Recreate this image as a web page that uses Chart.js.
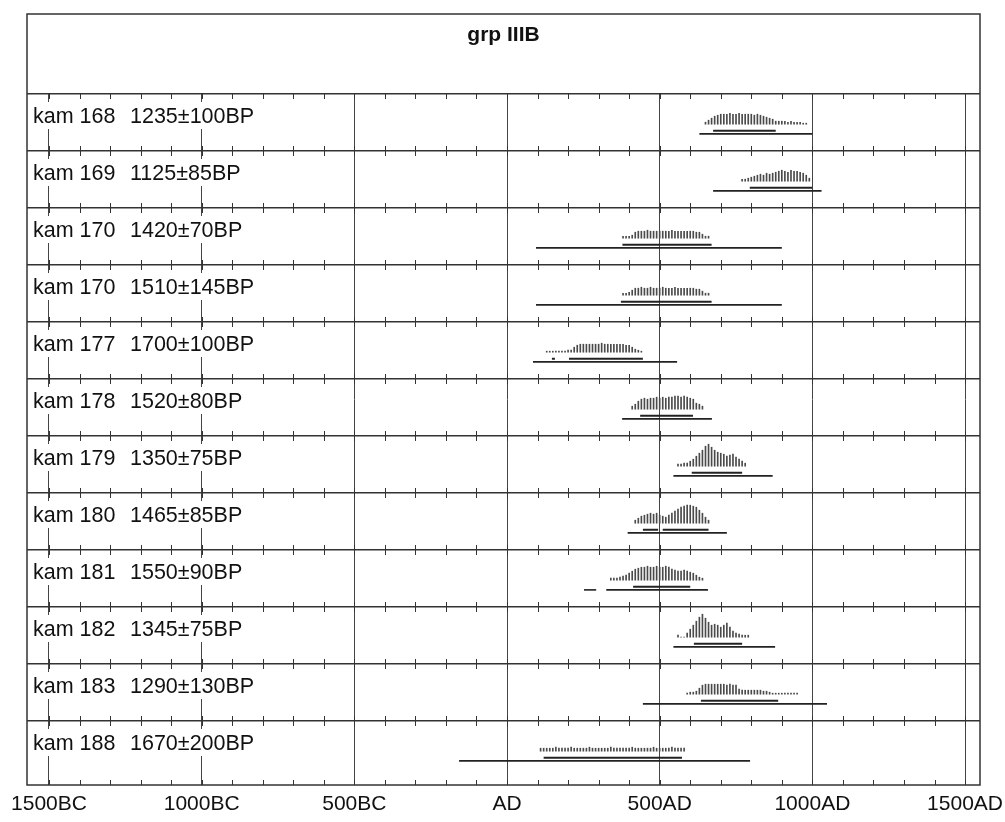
<!DOCTYPE html>
<html>
<head>
<meta charset="utf-8">
<script src="https://cdn.jsdelivr.net/npm/chart.js@4.4.0/dist/chart.umd.min.js"></script>
<style>
  html, body { margin: 0; padding: 0; background: #fff; }
</style>
</head>
<body>
<canvas id="grafico" width="1005" height="822"></canvas>
<script>
// Título e rótulos das linhas (nome da amostra e data BP)
const titulo = 'grp IIIB';
const nomes = ['kam 168', 'kam 169', 'kam 170', 'kam 170', 'kam 177', 'kam 178',
               'kam 179', 'kam 180', 'kam 181', 'kam 182', 'kam 183', 'kam 188'];
const datas = ['1235±100BP', '1125±85BP', '1420±70BP', '1510±145BP', '1700±100BP', '1520±80BP',
               '1350±75BP', '1465±85BP', '1550±90BP', '1345±75BP', '1290±130BP', '1670±200BP'];

// Eixo X (anos, AD = 0)
const anosEixo = [-1500, -1000, -500, 0, 500, 1000, 1500];
const rotulosEixo = ['1500BC', '1000BC', '500BC', 'AD', '500AD', '1000AD', '1500AD'];

// Distribuições de probabilidade (passo de 10 anos, primeiro ano em inicioProb)
const passoProb = 10;
const inicioProb = [650, 770, 380, 380, 130, 410, 560, 420, 340, 560, 590, 110];
const p168 = [2,4,6,8,9,10,10,10,11,10,10,11,10,10,10,10,9,10,9,8,7,6,5,3,3,3,3,2,3,2,2,2,1,1];
const p169 = [2,2,3,4,5,6,7,6,8,7,8,9,10,11,10,9,11,10,10,9,8,6,3];
const p170a = [2,2,2,3,6,7,7,7,8,7,7,7,7,7,7,7,8,7,7,7,7,7,7,7,6,6,4,2,2];
const p170b = [2,2,3,5,7,7,8,7,7,8,7,7,7,8,7,7,7,8,7,7,7,7,7,7,6,6,4,2,2];
const p177 = [1,1,1,1,1,1,1,2,2,5,7,8,8,8,8,8,8,8,9,8,8,8,8,8,8,8,7,7,5,3,2,1];
const p178 = [3,5,8,10,11,10,11,11,12,11,12,11,12,12,13,13,12,13,12,11,10,6,5,3];
const p179 = [2,2,3,3,5,7,10,13,16,20,22,19,16,14,13,12,10,11,12,9,7,5,3];
const p180 = [3,5,7,8,9,10,9,10,8,7,6,8,10,12,14,16,17,18,18,17,16,13,10,6,3];
const p181 = [2,2,2,3,4,5,7,9,11,12,13,13,14,13,13,14,13,13,14,13,11,10,9,9,10,9,8,7,5,3,2];
const p182 = [2,0,0,4,8,12,16,20,23,19,15,12,13,12,10,12,14,10,6,4,3,2,2,2];
const p183 = [1,2,2,3,6,9,10,10,10,10,10,10,10,9,10,9,9,5,4,4,4,4,4,4,4,3,3,2,1,1,1,1,1,1,1,1,1];
const p188 = [3,3,3,3,3,4,3,3,3,3,4,3,3,3,3,3,4,3,3,3,3,3,3,4,3,3,3,3,3,3,4,3,3,3,3,3,3,4,3,3,3,3,3,4,3,3,3,3];
const probs = [p168, p169, p170a, p170b, p177, p178, p179, p180, p181, p182, p183, p188];

// Intervalos 68.2% e 95.4%
const faixa68 = [
    [[675, 880]], [[795, 1000]], [[378, 670]], [[373, 670]],
    [[147, 157], [203, 445]], [[436, 609]], [[605, 770]], [[445, 495], [510, 660]],
    [[413, 600]], [[612, 770]], [[635, 888]], [[120, 573]]
];
const faixa95 = [
    [[630, 1000]], [[675, 1030]], [[95, 900]], [[95, 900]],
    [[85, 557]], [[377, 671]], [[545, 870]], [[395, 720]],
    [[252, 292], [325, 658]], [[545, 878]], [[445, 1048]], [[-157, 796]]
];

const nLinhas = nomes.length;
const BASE = 0.53;        // base do histograma dentro da linha
const Y68 = 0.645;
const Y95 = 0.70;
const ESCALA = 1 / 57;    // altura da probabilidade em unidades de linha
const FONTE = '"Liberation Sans", Arial, sans-serif';

const datasets = [];

probs.forEach((p, i) => {
    datasets.push({
        type: 'bar',
        data: p.map((v, k) => ({ x: inicioProb[i] + k * passoProb, y: [i + BASE, i + BASE - v * ESCALA] })),
        backgroundColor: '#4a4a4a',
        barThickness: 1,
        grouped: false
    });
});

function linhaFaixa(faixas, pos, largura) {
    faixas.forEach((segs, i) => {
        segs.forEach(s => {
            datasets.push({
                type: 'line',
                data: [{ x: s[0], y: i + pos }, { x: s[1], y: i + pos }],
                borderColor: '#222',
                borderWidth: largura,
                pointRadius: 0
            });
        });
    });
}
linhaFaixa(faixa68, Y68, 2);
linhaFaixa(faixa95, Y95, 1.6);

// Moldura, cabeçalho, marcas menores e rótulos
const moldura = {
    id: 'moldura',
    beforeDatasetsDraw(chart) {
        const { ctx, chartArea: a, scales: { x, y } } = chart;
        const yCab = y.getPixelForValue(0);
        ctx.save();
        ctx.fillStyle = '#fff';
        ctx.fillRect(a.left, a.top, a.right - a.left, yCab - a.top - 1);

        // marcas a cada 100 anos em cada linha divisória
        ctx.strokeStyle = '#333';
        ctx.lineWidth = 1;
        ctx.beginPath();
        for (let r = 0; r <= nLinhas; r++) {
            const yy = r < nLinhas ? y.getPixelForValue(r) : a.bottom;
            for (let ano = -1500; ano <= 1500; ano += 100) {
                const xx = Math.round(x.getPixelForValue(ano)) + 0.5;
                ctx.moveTo(xx, yy - (r === 0 ? 0 : 5));
                ctx.lineTo(xx, yy + (r === nLinhas ? 0 : 5));
            }
        }
        ctx.stroke();
        ctx.restore();
    },
    afterDraw(chart) {
        const { ctx, chartArea: a, scales: { y } } = chart;
        ctx.save();
        ctx.font = '21.5px ' + FONTE;
        ctx.textBaseline = 'alphabetic';
        nomes.forEach((nome, i) => {
            const topo = y.getPixelForValue(i);
            const xData = a.left + 103;
            const fim = xData + ctx.measureText(datas[i]).width;
            ctx.fillStyle = '#fff';
            ctx.fillRect(a.left + 3, topo + 8, fim - a.left, 27);
            ctx.fillStyle = '#111';
            ctx.fillText(nome, a.left + 6, topo + 29);
            ctx.fillText(datas[i], xData, topo + 29);
        });

        ctx.font = 'bold 21px ' + FONTE;
        ctx.textAlign = 'center';
        ctx.fillStyle = '#111';
        ctx.fillText(titulo, (a.left + a.right) / 2, a.top + 27);

        ctx.strokeStyle = '#333';
        ctx.lineWidth = 1.5;
        ctx.strokeRect(a.left, a.top, a.right - a.left, a.bottom - a.top);
        ctx.restore();
    }
};

const ctx = document.getElementById('grafico').getContext('2d');

new Chart(ctx, {
    type: 'bar',
    data: { datasets: datasets },
    options: {
        responsive: false,
        animation: false,
        events: [],
        layout: { padding: { left: 27, right: 25, top: 14, bottom: 0 } },
        plugins: {
            legend: { display: false },
            tooltip: { enabled: false }
        },
        scales: {
            x: {
                type: 'linear',
                min: -1572,
                max: 1549,
                offset: false,
                afterBuildTicks: axis => { axis.ticks = anosEixo.map(v => ({ value: v })); },
                afterFit: axis => {
                    axis.paddingLeft = 0;
                    axis.paddingRight = 0;
                    axis.height = 37;
                },
                ticks: {
                    callback: v => rotulosEixo[anosEixo.indexOf(v)],
                    font: { family: FONTE, size: 21 },
                    color: '#111',
                    padding: 7,
                    maxRotation: 0,
                    autoSkip: false
                },
                grid: { color: '#444', lineWidth: 1, drawTicks: false, offset: false },
                border: { display: false }
            },
            y: {
                type: 'linear',
                reverse: true,
                min: -1.4035,
                max: 12.123,
                afterBuildTicks: axis => {
                    const t = [];
                    for (let r = 0; r < nLinhas; r++) t.push({ value: r });
                    axis.ticks = t;
                },
                ticks: { display: false },
                grid: { color: '#333', lineWidth: 1.5, drawTicks: false },
                border: { display: false }
            }
        }
    },
    plugins: [moldura]
});
</script>
</body>
</html>
